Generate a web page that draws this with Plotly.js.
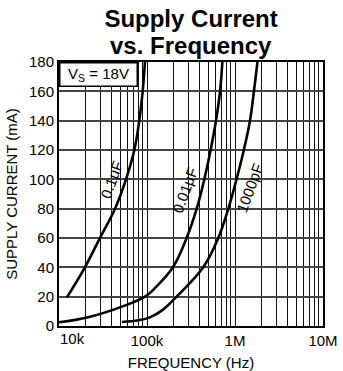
<!DOCTYPE html>
<html>
<head>
<meta charset="utf-8">
<script src="https://cdn.plot.ly/plotly-3.0.1.min.js"></script>
<style>html,body{margin:0;padding:0;background:#fff;}#chart{width:343px;height:371px;}</style>
</head>
<body>
<div id="chart"></div>
<script>
// Data (frequency in Hz, supply current in mA)
var freq_01uF = [12300, 19700, 29200, 43300, 57700, 71800, 81700, 89300, 94800];
var curr_01uF = [19.5, 40, 60, 80, 100, 120, 140, 160, 180];

var freq_001uF = [10000, 21500, 52000, 94800, 123000, 197000, 282000, 367000, 448000, 529000, 608000, 676000, 718000];
var curr_001uF = [2.5, 6, 13.2, 20, 25.8, 40, 60, 80, 100, 120, 140, 160, 180];

var freq_1000pF = [52000, 80000, 108000, 151000, 217000, 435000, 646000, 840000, 1040000, 1260000, 1480000, 1640000, 1800000];
var curr_1000pF = [2.7, 3.9, 5.9, 11, 20, 40, 60, 80, 100, 120, 140, 160, 180];

var seriesNames = ['0.1\u03bcF', '0.01\u03bcF', '1000pF'];
var xTickVals = [1e5, 1e6, 1e7];
var xTickText = ['100k', '1M', '10M'];
var firstTickText = '10k';
var yTickStep = 20;
var yRange = [0, 180];
var xRangeHz = [1e4, 1e7];

var FONT = '"Liberation Sans", Arial, Helvetica, sans-serif';
var lineStyle = {color: '#000', width: 2.6, shape: 'spline', smoothing: 1.1};

var traces = [
  {x: freq_01uF, y: curr_01uF, name: seriesNames[0]},
  {x: freq_001uF, y: curr_001uF, name: seriesNames[1]},
  {x: freq_1000pF, y: curr_1000pF, name: seriesNames[2]}
].map(function (t) {
  t.type = 'scatter'; t.mode = 'lines'; t.line = lineStyle; t.showlegend = false; t.hoverinfo = 'skip';
  return t;
});

var layout = {
  width: 343, height: 371,
  margin: {l: 59, r: 20, t: 62, b: 45},
  paper_bgcolor: '#fff', plot_bgcolor: '#fff',
  font: {family: FONT, color: '#000', size: 15},
  title: {
    text: '<b>Supply Current</b>',
    font: {family: FONT, size: 24, color: '#000'},
    xref: 'container', x: 0.557, xanchor: 'center',
    yref: 'container', y: 0.949, yanchor: 'middle'
  },
  showlegend: false,
  xaxis: {
    type: 'log',
    range: [Math.log10(xRangeHz[0]), Math.log10(xRangeHz[1])],
    tickmode: 'array', tickvals: xTickVals, ticktext: xTickText,
    showgrid: true, gridcolor: '#111', gridwidth: 1,
    minor: {dtick: 'D1', showgrid: true, gridcolor: '#111', gridwidth: 1, ticks: ''},
    showline: true, mirror: true, linecolor: '#000', linewidth: 2,
    ticks: '', zeroline: false,
    tickfont: {family: FONT, size: 15, color: '#000'},
    title: {text: 'FREQUENCY (Hz)', font: {family: FONT, size: 15, color: '#000'}, standoff: 15}
  },
  yaxis: {
    range: yRange, tick0: 0, dtick: yTickStep,
    showgrid: true, gridcolor: '#444', gridwidth: 2,
    showline: true, mirror: true, linecolor: '#000', linewidth: 2,
    ticks: '', zeroline: false,
    tickfont: {family: FONT, size: 15, color: '#000'},
    title: {text: 'SUPPLY CURRENT (mA)', font: {family: FONT, size: 15, color: '#000'}, standoff: 8}
  },
  annotations: [
    {text: '<b>vs. Frequency</b>', xref: 'paper', yref: 'paper', x: 0.5, y: 1.062,
     xanchor: 'center', yanchor: 'middle', showarrow: false,
     font: {family: FONT, size: 24, color: '#000'}},
    {text: firstTickText, xref: 'paper', yref: 'paper', x: 0.053, y: 0, xanchor: 'center', yanchor: 'top',
     yshift: -2, showarrow: false, font: {family: FONT, size: 15, color: '#000'}},
    {text: 'V<sub>S</sub> = 18V', xref: 'paper', yref: 'paper', x: 0, y: 1, xanchor: 'left', yanchor: 'top',
     showarrow: false, bgcolor: '#fff', bordercolor: '#000', borderwidth: 1.5, borderpad: 3,
     width: 70, height: 16, font: {family: FONT, size: 15, color: '#000'}},
    {text: seriesNames[0], x: 4.597, y: 100, xref: 'x', yref: 'y', textangle: -70, showarrow: false,
     font: {family: FONT, size: 15, color: '#000'}},
    {text: seriesNames[1], x: 5.426, y: 92.7, xref: 'x', yref: 'y', textangle: -70, showarrow: false,
     font: {family: FONT, size: 15, color: '#000'}},
    {text: seriesNames[2], x: 6.170, y: 94.4, xref: 'x', yref: 'y', textangle: -70, showarrow: false,
     font: {family: FONT, size: 15, color: '#000'}}
  ]
};

Plotly.newPlot('chart', traces, layout, {displayModeBar: false, staticPlot: true});
</script>
</body>
</html>
